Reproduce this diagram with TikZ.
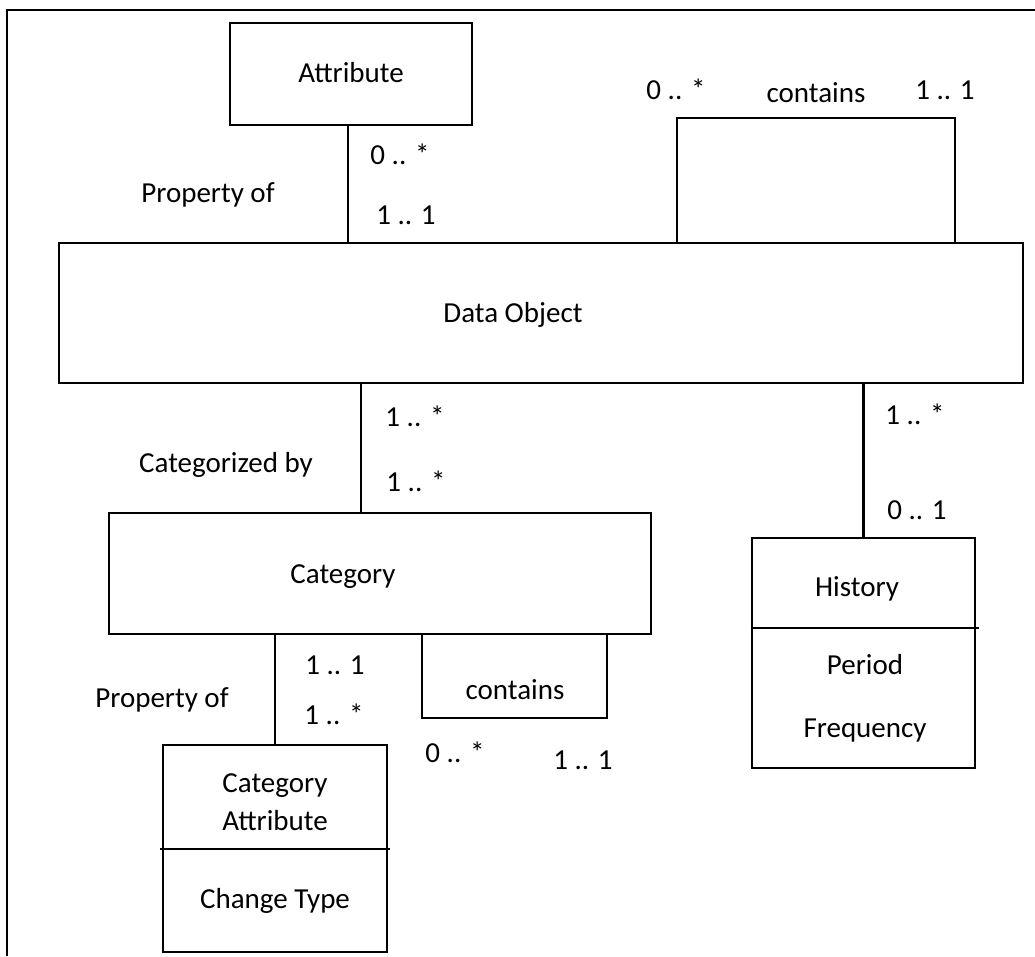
\documentclass[tikz,border=0pt]{standalone}
\usepackage{fontspec}
\setmainfont{Carlito}
\begin{document}
\begin{tikzpicture}[x=1pt,y=-1pt,
  line width=2.7pt,
  box/.style={draw, line width=2.7pt, inner sep=0pt, rectangle},
  lbl/.style={inner sep=0pt, font=\fontsize{29}{35}\selectfont, text height=18.6pt, text depth=0pt}]
\useasboundingbox (0,0) rectangle (1035,956);

% page frame (top and left edges)
\coordinate (frame) at (7,10);
\coordinate (frameend) at (1035,956);
\draw (frame |- frameend) -- (frame) -- (frame -| frameend);

% classes
\node[box, minimum width=242pt, minimum height=102pt] (attr) at (351,74) {};
\node[box, minimum width=964pt, minimum height=140pt] (dobj) at (541,313) {};
\node[box, minimum width=542pt, minimum height=121pt] (cat) at (380,573.5) {};
\node[box, minimum width=224pt, minimum height=207pt] (catattr) at (275,848.5) {};
\node[box, minimum width=223pt, minimum height=230pt] (hist) at (863.5,653) {};

% compartment dividers
\coordinate (cadiv) at (0,849);
\coordinate (hdiv) at (0,628);
\draw ([xshift=-2pt]catattr.west |- cadiv) -- ([xshift=2pt]catattr.east |- cadiv);
\draw (hist.west |- hdiv) -- ([xshift=3pt]hist.east |- hdiv);

% class names and attributes
\node[lbl] (tattr) at (351,73) {Attribute};
\node[lbl] (tdobj) at (513,313) {Data Object};
\node[lbl] (tcat) at (343,574) {Category};
\node[lbl] (tca1) at (275,783) {Category};
\node[lbl] (tca2) at (275,821) {Attribute};
\node[lbl] (tca3) at (275,899) {Change Type};
\node[lbl] (thist) at (857,587) {History};
\node[lbl] (tper) at (865,665) {Period};
\node[lbl] (tfreq) at (865,728) {Frequency};

% Attribute -- Data Object
\coordinate (xa) at (348,0);
\draw (xa |- attr.south) -- (xa |- dobj.north);
\node[lbl] (m1) at (400,155) {0 .. *};
\node[lbl] (m2) at (406,215) {1 .. 1};
\node[lbl] (r1) at (208,193) {Property of};

% Data Object self-association
\coordinate (ca) at (677,118);
\coordinate (cb) at (955,118);
\draw (ca |- dobj.north) -- (ca) -- (cb) -- (cb |- dobj.north);
\node[lbl] (m3) at (676,90) {0 .. *};
\node[lbl] (r2) at (816,93) {contains};
\node[lbl] (m4) at (945,90) {1 .. 1};

% Data Object -- Category
\coordinate (xc) at (361,0);
\draw (xc |- dobj.south) -- (xc |- cat.north);
\node[lbl] (m5) at (415,417) {1 .. *};
\node[lbl] (m6) at (416,482) {1 .. *};
\node[lbl] (r3) at (226,463) {Categorized by};

% Data Object -- History
\draw (hist.north |- dobj.south) -- (hist.north);
\node[lbl] (m7) at (915,415) {1 .. *};
\node[lbl] (m8) at (917,510) {0 .. 1};

% Category -- Category Attribute
\draw (catattr.north |- cat.south) -- (catattr.north);
\node[lbl] (m9) at (335,665) {1 .. 1};
\node[lbl] (m10) at (334,715) {1 .. *};
\node[lbl] (r4) at (162,698) {Property of};

% Category self-association
\coordinate (cc) at (422,718);
\coordinate (cd) at (607,718);
\draw (cc |- cat.south) -- (cc) -- (cd) -- (cd |- cat.south);
\node[lbl] (r5) at (515,690) {contains};
\node[lbl] (m11) at (455,753) {0 .. *};
\node[lbl] (m12) at (583,760) {1 .. 1};
\end{tikzpicture}
\end{document}
